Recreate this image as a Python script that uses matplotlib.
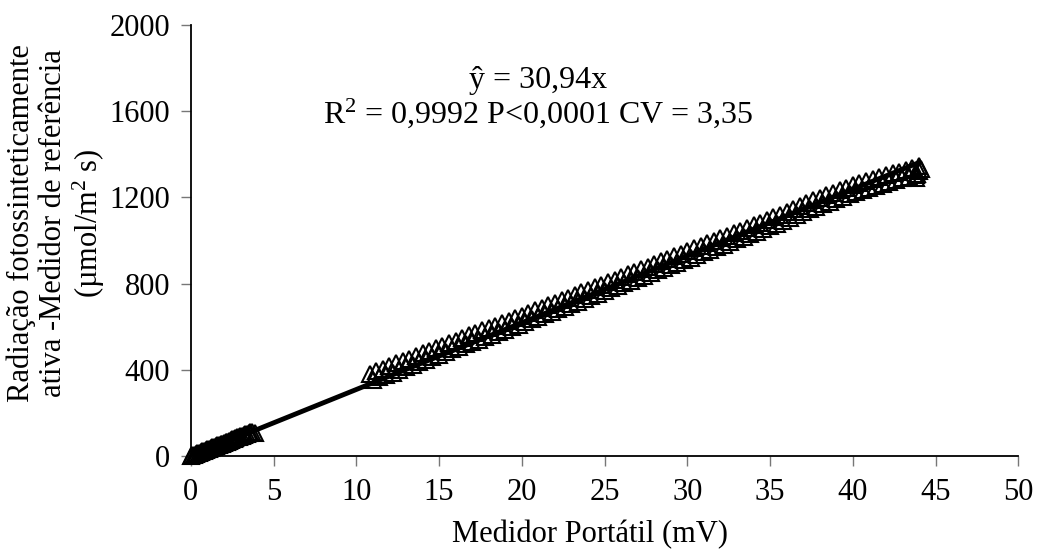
import numpy as np
import matplotlib
matplotlib.use("Agg")
import matplotlib.pyplot as plt

plt.rcParams["font.family"] = ["Liberation Serif", "DejaVu Serif"]
plt.rcParams["mathtext.fontset"] = "custom"
plt.rcParams["mathtext.rm"] = "Liberation Serif"
plt.rcParams["mathtext.it"] = "Liberation Serif:italic"

# readings near zero (low light)
x_low = [0.0, 0.1, 0.2, 0.3, 0.4, 0.5, 0.6, 0.7, 0.8, 0.9, 1.0, 1.1, 1.2, 1.3,
         1.4, 1.5, 1.6, 1.7, 1.8, 1.9, 2.0, 2.1, 2.2, 2.3, 2.4, 2.5, 2.6, 2.7,
         2.8, 2.9, 3.0, 3.1, 3.2, 3.3, 3.4, 3.5, 3.6, 3.7, 3.9]
y_low = [0, 4, 7, 10, 13, 16, 19, 22, 26, 28, 32, 34, 38, 41, 44, 47, 50, 53,
         57, 59, 63, 66, 68, 72, 75, 78, 81, 84, 87, 90, 94, 96, 99, 103, 105,
         108, 112, 114, 106]

# readings at higher irradiance, upper row
x_high_a = [10.8, 11.2, 11.6, 12.0, 12.4, 12.8, 13.2, 13.6, 14.0, 14.4, 14.8,
            15.2, 15.6, 16.0, 16.4, 16.8, 17.2, 17.6, 18.0, 18.4, 18.8, 19.2,
            19.6, 20.0, 20.4, 20.8, 21.2, 21.6, 22.0, 22.4, 22.8, 23.2, 23.6,
            24.0, 24.4, 24.8, 25.2, 25.6, 26.0, 26.4, 26.8, 27.2, 27.6, 28.0,
            28.4, 28.8, 29.2, 29.6, 30.0, 30.4, 30.8, 31.2, 31.6, 32.0, 32.4,
            32.8, 33.2, 33.6, 34.0, 34.4, 34.8, 35.2, 35.6, 36.0, 36.4, 36.8,
            37.2, 37.6, 38.0, 38.4, 38.8, 39.2, 39.6, 40.0, 40.4, 40.8, 41.2,
            41.6, 42.0, 42.4, 42.8, 43.2, 43.6, 44.0]
y_high_a = [382, 395, 406, 418, 430, 442, 453, 466, 477, 490,
            501, 513, 525, 536, 548, 560, 571, 583, 594, 605,
            617, 628, 640, 652, 664, 676, 688, 699, 712, 723,
            735, 747, 759, 771, 783, 795, 808, 819, 831, 843,
            855, 867, 879, 890, 903, 915, 926, 939, 951, 963,
            975, 987, 999, 1011, 1022, 1035, 1046, 1059, 1071, 1082,
            1095, 1107, 1120, 1134, 1147, 1161, 1173, 1186, 1199, 1210,
            1221, 1233, 1244, 1256, 1265, 1274, 1284, 1293, 1302, 1311,
            1319, 1328, 1336, 1344]

# readings at higher irradiance, lower row
x_high_b = [11.0, 11.4, 11.8, 12.2, 12.6, 13.0, 13.4, 13.8, 14.2, 14.6, 15.0,
            15.4, 15.8, 16.2, 16.6, 17.0, 17.4, 17.8, 18.2, 18.6, 19.0, 19.4,
            19.8, 20.2, 20.6, 21.0, 21.4, 21.8, 22.2, 22.6, 23.0, 23.4, 23.8,
            24.2, 24.6, 25.0, 25.4, 25.8, 26.2, 26.6, 27.0, 27.4, 27.8, 28.2,
            28.6, 29.0, 29.4, 29.8, 30.2, 30.6, 31.0, 31.4, 31.8, 32.2, 32.6,
            33.0, 33.4, 33.8, 34.2, 34.6, 35.0, 35.4, 35.8, 36.2, 36.6, 37.0,
            37.4, 37.8, 38.2, 38.6, 39.0, 39.4, 39.8, 40.2, 40.6, 41.0, 41.4,
            41.8, 42.2, 42.6, 43.0, 43.4, 43.8]
y_high_b = [353, 365, 376, 388, 400, 412, 424, 436, 448, 460,
            471, 483, 495, 506, 518, 530, 541, 553, 564, 575,
            587, 598, 610, 622, 634, 646, 658, 670, 682, 693,
            705, 717, 729, 741, 753, 766, 778, 789, 801, 813,
            825, 837, 849, 861, 873, 885, 897, 909, 921, 933,
            945, 957, 969, 981, 993, 1005, 1017, 1029, 1041, 1053,
            1065, 1078, 1091, 1105, 1118, 1131, 1144, 1157, 1169, 1180,
            1191, 1203, 1214, 1225, 1234, 1243, 1253, 1262, 1271, 1279,
            1288, 1296, 1304]

# stacked readings at the top end
x_end = [43.9, 44.0, 43.8, 44.1]
y_end = [1310, 1322, 1290, 1330]

slope = 30.94
xticks = [0, 5, 10, 15, 20, 25, 30, 35, 40, 45, 50]
yticks = [0, 400, 800, 1200, 1600, 2000]

fig = plt.figure(figsize=(10.37, 5.51), dpi=100)
ax = fig.add_axes([0.184, 0.172, 0.798, 0.783])

x_all = np.array(x_low + x_high_a + x_high_b)
x_fit = np.array([0.0, x_all.max()])
ax.plot(x_fit, slope * x_fit, color="black", linewidth=3.5, zorder=2)

mk = dict(linestyle="none", marker="^", markersize=11, markerfacecolor="none",
          markeredgecolor="black", markeredgewidth=1.5, clip_on=False, zorder=3)
ax.plot(x_low, y_low, **mk)
ax.plot(x_high_a, y_high_a, **mk)
ax.plot(x_high_b, y_high_b, **mk)
ax.plot(x_end, y_end, **mk)

ax.set_xlim(0, 50)
ax.set_ylim(0, 2000)
ax.set_xticks(xticks)
ax.set_yticks(yticks)
ax.tick_params(axis="both", labelsize=22, direction="out", length=7,
               width=1.0, color="#777777")
ax.tick_params(axis="x", pad=9)
ax.tick_params(axis="y", pad=8)
for s in ["top", "right"]:
    ax.spines[s].set_visible(False)
for s in ["left", "bottom"]:
    ax.spines[s].set_linewidth(1.3)

ax.set_xlabel("Medidor Portátil (mV)", fontsize=22)
ax.xaxis.set_label_coords(0.482, -0.148)

fig.text(0.055, 0.595,
         "Radiação fotossinteticamente\nativa -Medidor de referência\n(µmol/m$^2$ s)",
         rotation=90, ha="center", va="center", multialignment="center",
         fontsize=22, linespacing=1.12)

ax.text(0.42, 0.872, "ŷ = 30,94x", transform=ax.transAxes, ha="center",
        va="center", fontsize=23)
ax.text(0.42, 0.794, "R$^2$ = 0,9992 P<0,0001 CV = 3,35", transform=ax.transAxes,
        ha="center", va="center", fontsize=23)

fig.savefig("out.png", dpi=100, facecolor="white")
